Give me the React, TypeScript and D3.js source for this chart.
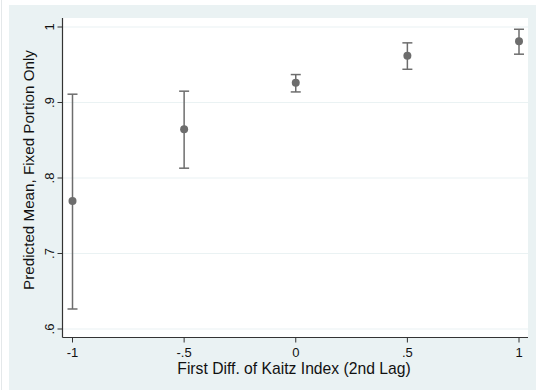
import React from "react";
import * as d3 from "d3";

const xValues = [-1, -0.5, 0, 0.5, 1];
const means = [0.7695, 0.8645, 0.926, 0.962, 0.981];
const lowers = [0.6265, 0.813, 0.914, 0.944, 0.964];
const uppers = [0.911, 0.915, 0.937, 0.979, 0.997];
const xTicks = [-1, -0.5, 0, 0.5, 1];
const xTickLabels = ["-1", "-.5", "0", ".5", "1"];
const yTicks = [0.6, 0.7, 0.8, 0.9, 1];
const yTickLabels = [".6", ".7", ".8", ".9", "1"];

const W = 536;
const H = 390;
const font = "'Liberation Sans', Arial, sans-serif";

export default function App() {
  const x = d3.scaleLinear().domain([-1, 1]).range([72.5, 519]);
  const y = d3.scaleLinear().domain([0.6, 1]).range([329, 27]);
  const plotL = 62.5, plotR = 528, plotT = 18, plotB = 337.5;
  const gray = "#6d6d6d";
  const capW = 5;
  return (
    <svg width={W} height={H} style={{ position: "fixed", left: 0, top: 0 }}>
      <rect x={0} y={0} width={W} height={H} fill="#ffffff" />
      <line x1={1.5} x2={1.5} y1={0} y2={H} stroke="#e4e8ea" />
      <rect x={9} y={5} width={W - 9} height={H - 5} fill="#eaf2f3" />
      <rect x={plotL} y={plotT} width={plotR - plotL} height={plotB - plotT} fill="#ffffff" />
      {yTicks.map((t) => (
        <line key={"g" + t} x1={plotL} x2={plotR} y1={y(t)} y2={y(t)} stroke="#eaf2f3" strokeWidth={1.2} />
      ))}
      <line x1={plotL} x2={plotL} y1={plotT} y2={plotB} stroke="#333" strokeWidth={1.2} />
      <line x1={plotL} x2={plotR} y1={plotB} y2={plotB} stroke="#333" strokeWidth={1.2} />
      {yTicks.map((t, i) => (
        <g key={"y" + t}>
          <line x1={plotL - 5} x2={plotL} y1={y(t)} y2={y(t)} stroke="#333" strokeWidth={1} />
          <text
            transform={`translate(${plotL - 9},${y(t)}) rotate(-90)`}
            textAnchor="middle"
            fontFamily={font}
            fontSize={13}
            fill="#111"
          >
            {yTickLabels[i]}
          </text>
        </g>
      ))}
      {xTicks.map((t, i) => (
        <g key={"x" + t}>
          <line x1={x(t)} x2={x(t)} y1={plotB} y2={plotB + 5} stroke="#333" strokeWidth={1} />
          <text x={x(t)} y={plotB + 19.5} textAnchor="middle" fontFamily={font} fontSize={13} fill="#111">
            {xTickLabels[i]}
          </text>
        </g>
      ))}
      <text x={294} y={373.5} textAnchor="middle" fontFamily={font} fontSize={15.7} fill="#111">
        First Diff. of Kaitz Index (2nd Lag)
      </text>
      <text
        transform={`translate(34,170) rotate(-90)`}
        textAnchor="middle"
        fontFamily={font}
        fontSize={15.2}
        fill="#111"
      >
        Predicted Mean, Fixed Portion Only
      </text>
      {xValues.map((v, i) => (
        <g key={"p" + i}>
          <line x1={x(v)} x2={x(v)} y1={y(lowers[i])} y2={y(uppers[i])} stroke={gray} strokeWidth={1.5} />
          <line x1={x(v) - capW} x2={x(v) + capW} y1={y(lowers[i])} y2={y(lowers[i])} stroke={gray} strokeWidth={1.5} />
          <line x1={x(v) - capW} x2={x(v) + capW} y1={y(uppers[i])} y2={y(uppers[i])} stroke={gray} strokeWidth={1.5} />
          <circle cx={x(v)} cy={y(means[i])} r={4} fill={gray} />
        </g>
      ))}
    </svg>
  );
}
